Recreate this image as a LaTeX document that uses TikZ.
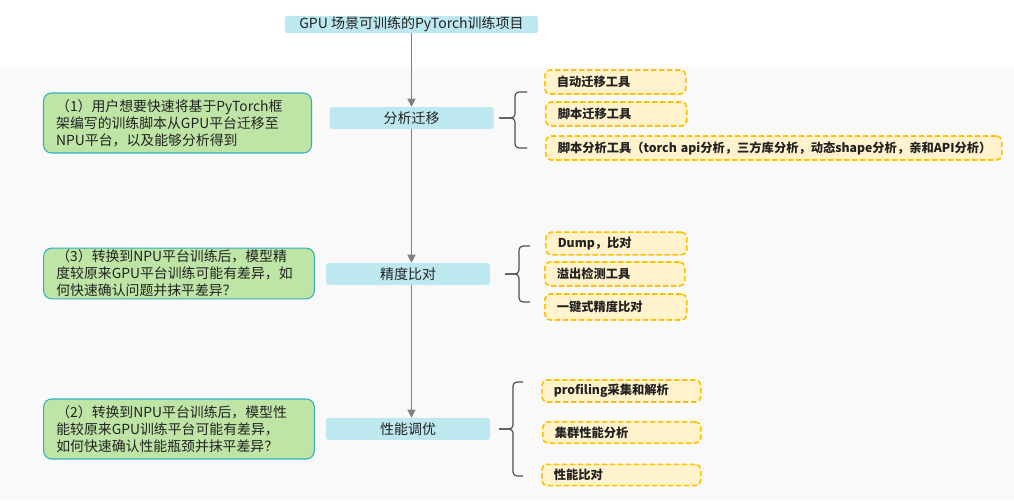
\documentclass[tikz,border=0pt]{standalone}
\usepackage{fontspec}
\setmainfont{Noto Sans CJK SC}
\usetikzlibrary{positioning,arrows.meta}
\definecolor{titlecol}{RGB}{190,232,239}
\definecolor{bgcol}{RGB}{249,249,249}
\definecolor{qfill}{RGB}{190,229,166}
\definecolor{qdraw}{RGB}{48,176,190}
\definecolor{tfill}{RGB}{255,242,204}
\definecolor{tdraw}{RGB}{255,192,0}
\definecolor{spinecol}{RGB}{128,128,128}
\definecolor{bracecol}{RGB}{80,80,80}
\definecolor{txtcol}{RGB}{34,34,34}
\tikzset{stage/.style={fill=titlecol,rounded corners=2pt,minimum height=16.5pt,minimum width=123pt,text=txtcol,font=\fontsize{10.5}{12}\selectfont,inner sep=0pt}}
\tikzset{question/.style={draw=qdraw,fill=qfill,line width=0.8pt,rounded corners=6pt,align=left,text width=#1,inner xsep=9.5pt,inner ysep=0pt,text=txtcol,font=\fontsize{10.4}{12.75}\selectfont}}
\tikzset{tool/.style={draw=tdraw,fill=tfill,dash pattern=on 4pt off 2pt,line width=1.2pt,rounded corners=4pt,anchor=west,text width=#1,inner xsep=9pt,inner ysep=0pt,text=txtcol,font=\fontsize{9.2}{11}\selectfont\bfseries}}
\tikzset{spine/.style={-{Triangle[width=6pt,length=6pt]},spinecol,line width=0.9pt}}
\tikzset{brace/.style={bracecol,line width=0.9pt,rounded corners=3pt}}

\begin{document}
\begin{tikzpicture}[x=0.75pt,y=-0.75pt]

	%% Frame and background
	\useasboundingbox (0,0) rectangle (1014,500);
	\fill[bgcol] (0,67) rectangle (1014,500);
	%%

	%% Main line
	\node[stage,minimum width=190pt,minimum height=13pt] (title) at (411.5,24.5) {GPU 场景可训练的PyTorch训练项目};
	\node[stage] (fx) at (411.5,118) {分析迁移};
	\node[stage] (jd) at (408,274) {精度比对};
	\node[stage] (xn) at (408,429) {性能调优};

	\draw[spine] (title.south) -- (title.south |- fx.north);
	\draw[spine] (fx.south) -- (fx.south |- jd.north);
	\draw[spine] (fx.south |- jd.south) -- (fx.south |- xn.north);

	%% Questions
	\node[question=182pt,minimum height=45pt] (q1) at (177.5,123)
		{（1）用户想要快速将基于PyTorch框\\架编写的训练脚本从GPU平台迁移至\\NPU平台，以及能够分析得到};
	\node[question=184pt,minimum height=38pt] (q3) at (179,273.5)
		{（3）转换到NPU平台训练后，模型精\\度较原来GPU平台训练可能有差异，如\\何快速确认问题并抹平差异？};
	\node[question=184pt,minimum height=45pt] (q2) at (179,429)
		{（2）转换到NPU平台训练后，模型性\\能较原来GPU训练平台可能有差异，\\如何快速确认性能瓶颈并抹平差异？};

	%% Tools
	\node[tool=87.75pt,minimum height=18pt] (fx1) at (544,82) {自动迁移工具};
	\node[tool=87.75pt,minimum height=18pt] (fx2) at (545,114) {脚本迁移工具};
	\node[tool=324pt,minimum height=18pt] (fx3) at (545,148) {脚本分析工具（torch~api分析，三方库分析，动态shape分析，亲和API分析）};

	\node[tool=87.75pt,minimum height=17pt] (jd1) at (545,243.5) {Dump，比对};
	\node[tool=87pt,minimum height=18pt] (jd2) at (544,274) {溢出检测工具};
	\node[tool=88.5pt,minimum height=19.5pt] (jd3) at (544,307) {一键式精度比对};

	\node[tool=101.25pt,minimum height=16.5pt] (xn1) at (541,391) {profiling采集和解析};
	\node[tool=100.5pt,minimum height=16pt] (xn2) at (542,432.5) {集群性能分析};
	\node[tool=101.25pt,minimum height=16pt] (xn3) at (541,475) {性能比对};

	%% Braces
	\coordinate (fxa) at (499,118);
	\draw[brace] (527,92) -- (515,92) -- (515,118) -- (fxa);
	\draw[brace] (527,148) -- (515,148) -- (515,118) -- (fxa);

	\coordinate (jda) at (505,274);
	\draw[brace] (530,246) -- (519,246) -- (519,274) -- (jda);
	\draw[brace] (530,302) -- (519,302) -- (519,274) -- (jda);

	\coordinate (xna) at (499,429);
	\draw[brace] (523,382) -- (513,382) -- (513,429) -- (xna);
	\draw[brace] (523,476) -- (513,476) -- (513,429) -- (xna);

\end{tikzpicture}
\end{document}
